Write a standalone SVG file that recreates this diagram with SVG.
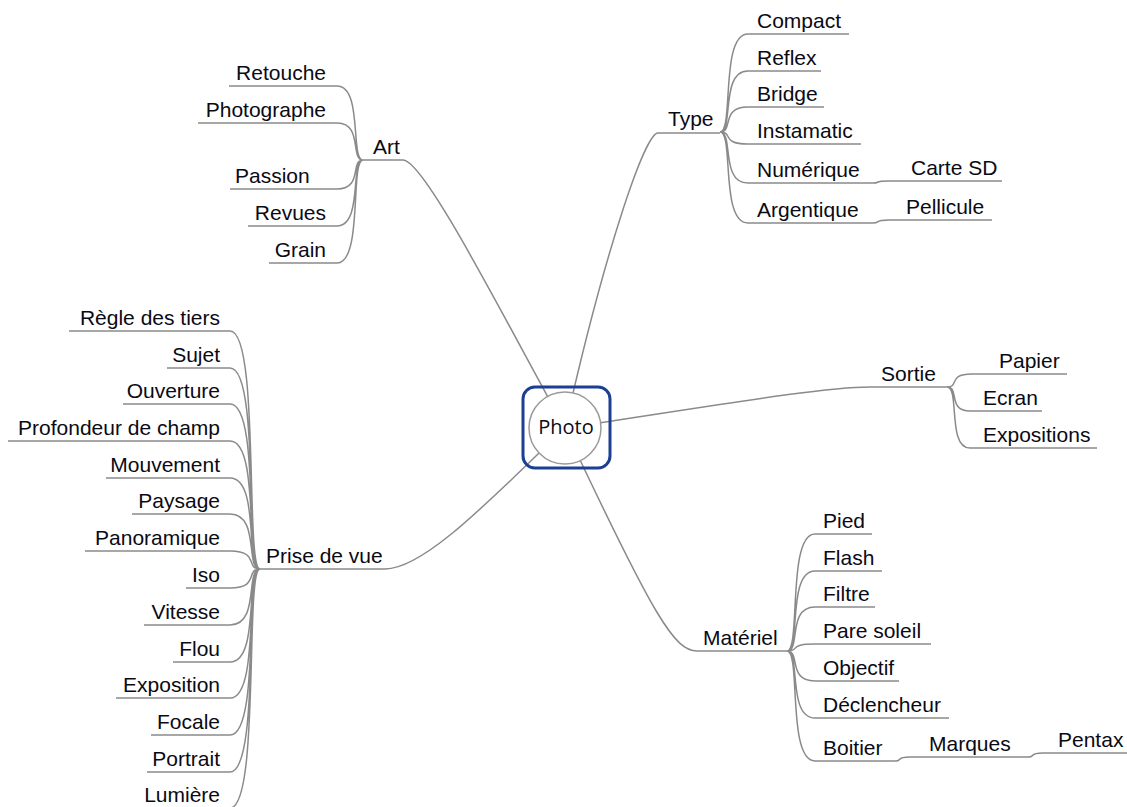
<svg xmlns="http://www.w3.org/2000/svg" width="1127" height="807" viewBox="0 0 1127 807">
<style>
.t{font-family:"Liberation Sans",Arial,sans-serif;font-size:21px;fill:#0a0a14}
.e{text-anchor:end}
.u{stroke:#8a8a8a;stroke-width:1.5;fill:none}
.c{stroke:#8a8a8a;stroke-width:1.5;fill:none}
</style>
<rect width="1127" height="807" fill="#fff"/>
<g id="connectors">
<path class="c" d="M403 160 C425 160 510 330 565 428"/>
<path class="c" d="M658 133 C645 133 605 250 565 428"/>
<path class="c" d="M870 387 C820 387 700 408 565 428"/>
<path class="c" d="M697 651 C675 651 655 620 565 428"/>
<path class="c" d="M385 569 C425 569 495 495 565 428"/>
<path class="c" d="M363 160 C350 160 363 86 337 86 M363 160 C350 160 363 123 337 123 M363 160 C350 160 363 189 337 189 M363 160 C350 160 363 226 337 226 M363 160 C350 160 363 263 337 263"/>
<path class="c" d="M720 132 C734 132 720 34 748 34 M720 132 C734 132 720 71 748 71 M720 132 C734 132 720 107 748 107 M720 132 C734 132 720 144 748 144 M720 132 C734 132 720 183 748 183 M720 132 C734 132 720 223 748 223"/>
<path class="c" d="M873 183 C881 183 873 181 889 181 M873 223 C881 223 873 220 889 220"/>
<path class="c" d="M947 387 C960 387 947 374 972 374 M947 387 C960 387 947 411 970 411 M947 387 C960 387 947 448 970 448"/>
<path class="c" d="M787 651 C801 651 787 534 815 534 M787 651 C801 651 787 571 815 571 M787 651 C801 651 787 607 815 607 M787 651 C801 651 787 644 815 644 M787 651 C801 651 787 681 815 681 M787 651 C801 651 787 718 815 718 M787 651 C801 651 787 761 815 761"/>
<path class="c" d="M895 761 C903 761 895 757 910 757 M1028 757 C1036 757 1028 753 1043 753"/>
<path class="c" d="M260 569 C245 569 260 331 230 331 M260 569 C245 569 260 368 230 368 M260 569 C245 569 260 404 230 404 M260 569 C245 569 260 441 230 441 M260 569 C245 569 260 478 230 478 M260 569 C245 569 260 514 230 514 M260 569 C245 569 260 551 230 551 M260 569 C245 569 260 588 230 588 M260 569 C245 569 260 625 230 625 M260 569 C245 569 260 662 230 662 M260 569 C245 569 260 698 230 698 M260 569 C245 569 260 735 230 735 M260 569 C245 569 260 772 230 772 M260 569 C245 569 260 808 230 808"/>
</g>
<g id="root">
<rect x="523" y="387" width="87" height="81" rx="12" fill="none" stroke="#1c3f94" stroke-width="3"/>
<circle cx="565" cy="428" r="36" fill="#fff" stroke="#9a9a9a" stroke-width="1.5"/>
<text x="566" y="434" style="font-family:'Open Sans','DejaVu Sans',sans-serif;font-size:20px;fill:#0a0a14;text-anchor:middle">Photo</text>
</g>
<g id="art"><path class="u" d="M363 160 H403"/><text class="t" x="373" y="154">Art</text></g>
<g id="retouche"><path class="u" d="M229 86 H337"/><text class="t e" x="326" y="80">Retouche</text></g>
<g id="photographe"><path class="u" d="M198 123 H337"/><text class="t e" x="326" y="117">Photographe</text></g>
<g id="passion"><path class="u" d="M230 189 H337"/><text class="t" x="235" y="183">Passion</text></g>
<g id="revues"><path class="u" d="M248 226 H337"/><text class="t e" x="326" y="220">Revues</text></g>
<g id="grain"><path class="u" d="M269 263 H337"/><text class="t e" x="326" y="257">Grain</text></g>
<g id="type"><path class="u" d="M658 133 H720"/><text class="t" x="668" y="126">Type</text></g>
<g id="compact"><path class="u" d="M748 34 H849"/><text class="t" x="757" y="28">Compact</text></g>
<g id="reflex"><path class="u" d="M748 71 H821"/><text class="t" x="757" y="65">Reflex</text></g>
<g id="bridge"><path class="u" d="M748 107 H824"/><text class="t" x="757" y="101">Bridge</text></g>
<g id="instamatic"><path class="u" d="M748 144 H861"/><text class="t" x="757" y="138">Instamatic</text></g>
<g id="numerique"><path class="u" d="M748 183 H873"/><text class="t" x="757" y="177">Numérique</text></g>
<g id="cartesd"><path class="u" d="M889 181 H1002"/><text class="t" x="911" y="175">Carte SD</text></g>
<g id="argentique"><path class="u" d="M748 223 H873"/><text class="t" x="757" y="217">Argentique</text></g>
<g id="pellicule"><path class="u" d="M889 220 H992"/><text class="t" x="906" y="214">Pellicule</text></g>
<g id="sortie"><path class="u" d="M870 387 H947"/><text class="t" x="881" y="381">Sortie</text></g>
<g id="papier"><path class="u" d="M972 374 H1067"/><text class="t" x="999" y="368">Papier</text></g>
<g id="ecran"><path class="u" d="M970 411 H1042"/><text class="t" x="983" y="405">Ecran</text></g>
<g id="expositions"><path class="u" d="M970 448 H1097"/><text class="t" x="983" y="442">Expositions</text></g>
<g id="materiel"><path class="u" d="M697 651 H787"/><text class="t" x="703" y="645">Matériel</text></g>
<g id="pied"><path class="u" d="M815 534 H872"/><text class="t" x="823" y="528">Pied</text></g>
<g id="flash"><path class="u" d="M815 571 H882"/><text class="t" x="823" y="565">Flash</text></g>
<g id="filtre"><path class="u" d="M815 607 H875"/><text class="t" x="823" y="601">Filtre</text></g>
<g id="paresoleil"><path class="u" d="M815 644 H931"/><text class="t" x="823" y="638">Pare soleil</text></g>
<g id="objectif"><path class="u" d="M815 681 H899"/><text class="t" x="823" y="675">Objectif</text></g>
<g id="declencheur"><path class="u" d="M815 718 H949"/><text class="t" x="823" y="712">Déclencheur</text></g>
<g id="boitier"><path class="u" d="M815 761 H895"/><text class="t" x="823" y="755">Boitier</text></g>
<g id="marques"><path class="u" d="M910 757 H1028"/><text class="t" x="929" y="751">Marques</text></g>
<g id="pentax"><path class="u" d="M1043 753 H1127"/><text class="t" x="1058" y="747">Pentax</text></g>
<g id="prisedevue"><path class="u" d="M260 569 H385"/><text class="t" x="266" y="563">Prise de vue</text></g>
<g id="regle"><path class="u" d="M69 331 H230"/><text class="t e" x="220" y="325">Règle des tiers</text></g>
<g id="sujet"><path class="u" d="M167 368 H230"/><text class="t e" x="220" y="362">Sujet</text></g>
<g id="ouverture"><path class="u" d="M123 404 H230"/><text class="t e" x="220" y="398">Ouverture</text></g>
<g id="profondeur"><path class="u" d="M8 441 H230"/><text class="t e" x="220" y="435">Profondeur de champ</text></g>
<g id="mouvement"><path class="u" d="M106 478 H230"/><text class="t e" x="220" y="472">Mouvement</text></g>
<g id="paysage"><path class="u" d="M132 514 H230"/><text class="t e" x="220" y="508">Paysage</text></g>
<g id="panoramique"><path class="u" d="M85 551 H230"/><text class="t e" x="220" y="545">Panoramique</text></g>
<g id="iso"><path class="u" d="M186 588 H230"/><text class="t e" x="220" y="582">Iso</text></g>
<g id="vitesse"><path class="u" d="M144 625 H230"/><text class="t e" x="220" y="619">Vitesse</text></g>
<g id="flou"><path class="u" d="M173 662 H230"/><text class="t e" x="220" y="656">Flou</text></g>
<g id="exposition"><path class="u" d="M116 698 H230"/><text class="t e" x="220" y="692">Exposition</text></g>
<g id="focale"><path class="u" d="M151 735 H230"/><text class="t e" x="220" y="729">Focale</text></g>
<g id="portrait"><path class="u" d="M147 772 H230"/><text class="t e" x="220" y="766">Portrait</text></g>
<g id="lumiere"><path class="u" d="M135 808 H230"/><text class="t e" x="220" y="802">Lumière</text></g>
</svg>
